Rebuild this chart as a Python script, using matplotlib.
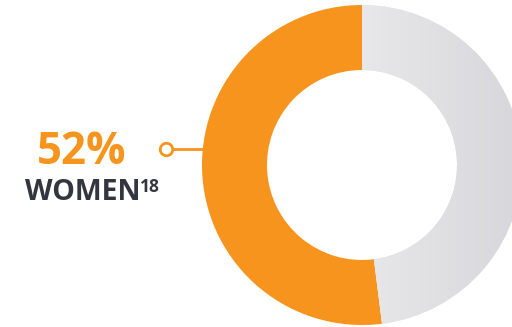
import matplotlib
matplotlib.use("Agg")
import matplotlib.pyplot as plt
import numpy as np
from matplotlib.colors import LinearSegmentedColormap

labels = ["Women", "Men"]
values = [52, 48]
pct_text = "52%"
label_text = "WOMEN"
sup_text = "18"

ORANGE = "#F7941E"
GRAY = "#E2E2E4"
DARK = "#33363F"

fig = plt.figure(figsize=(5.12, 3.27), dpi=100)
ax = fig.add_axes([0, 0, 1, 1])

cx, cy, R, W = 362, 162, 160, 65
wedges, _ = ax.pie(values, colors=[ORANGE, GRAY], startangle=90, counterclock=True,
                   center=(cx, cy), radius=R, wedgeprops=dict(width=W, linewidth=0),
                   frame=True)
ax.set_xlim(0, 512)
ax.set_ylim(0, 327)
ax.set_aspect("equal")
ax.axis("off")

# subtle gradient on the gray segment
grad = np.linspace(0, 1, 256).reshape(1, -1)
cmap = LinearSegmentedColormap.from_list("g", ["#E8E8EA", "#D7D7DB"])
im = ax.imshow(grad, extent=(cx, cx + R, cy - R, cy + R), cmap=cmap, aspect="auto", zorder=1.5)
im.set_clip_path(wedges[1])

# connector
ax.plot([171, cx - R + 2], [178, 178], color=ORANGE, lw=2, solid_capstyle="butt", zorder=3)
ax.plot([166], [178], marker="o", ms=9, mfc="white", mec=ORANGE, mew=2, zorder=4)

ax.text(37, 163, pct_text, color=ORANGE, fontsize=31.5, fontweight="bold",
        family="Open Sans", ha="left", va="baseline")
ax.text(25, 127, label_text, color=DARK, fontsize=20.5, fontweight="bold",
        family="Open Sans", ha="left", va="baseline")
ax.text(140, 135, sup_text, color=DARK, fontsize=12.5, fontweight="bold",
        family="Open Sans", ha="left", va="baseline")

fig.savefig("out.png", dpi=100)
